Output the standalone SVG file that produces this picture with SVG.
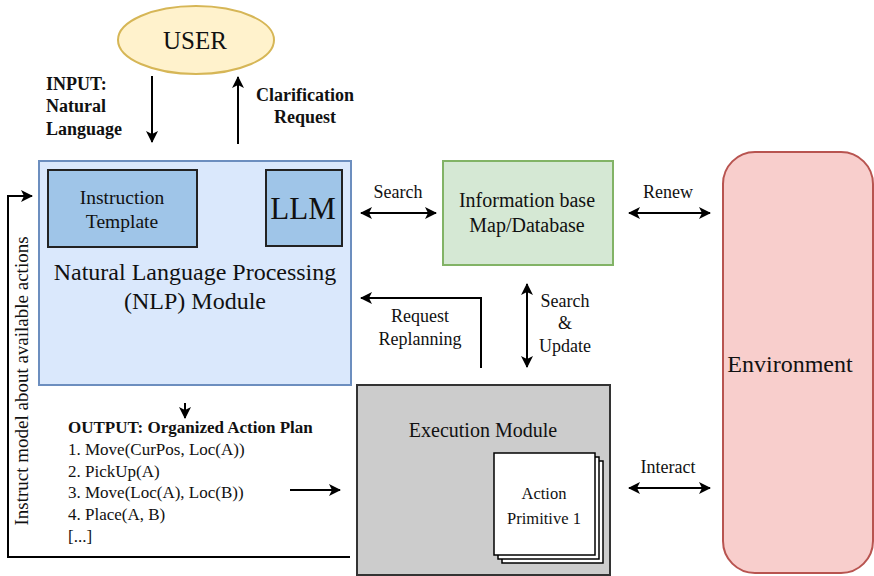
<svg xmlns="http://www.w3.org/2000/svg" width="874" height="576" viewBox="0 0 874 576" font-family="Liberation Serif, serif">
<style>
.t{font-family:'Liberation Serif',serif;fill:#111;}
.c{text-anchor:middle;}
.b{font-weight:bold;}
.ln{stroke:#000;stroke-width:2;fill:none;}
.card{fill:#fff;stroke:#000;stroke-width:1.5;}
.inner{fill:#9fc5e8;stroke:#222;stroke-width:2;}
</style>
<defs>
<marker id="ah" viewBox="0 0 12 12" refX="11" refY="6" markerWidth="6" markerHeight="6" orient="auto-start-reverse" markerUnits="strokeWidth">
<path d="M0,0 L12,6 L0,12 L3,6 Z" fill="#000"/>
</marker>
</defs>
<rect width="874" height="576" fill="#fff"/>
<g id="user">
<ellipse cx="196" cy="40" rx="78" ry="34" fill="#fff2cc" stroke="#d6b656" stroke-width="2"/>
<text x="195" y="49" class="t c" font-size="25">USER</text>
</g>
<g id="nlp">
<rect x="39" y="161" width="312" height="224" fill="#dae8fc" stroke="#6c8ebf" stroke-width="2"/>
<text x="195" y="280" class="t c" font-size="24">Natural Language Processing</text>
<text x="195" y="309" class="t c" font-size="24">(NLP) Module</text>
</g>
<g id="template">
<rect x="48" y="170" width="149" height="77" class="inner"/>
<text x="122" y="204" class="t c" font-size="19.5">Instruction</text>
<text x="122" y="228" class="t c" font-size="19.5">Template</text>
</g>
<g id="llm">
<rect x="266" y="170" width="76" height="76" class="inner"/>
<text x="303" y="219" class="t c" font-size="31">LLM</text>
</g>
<g id="infobase">
<rect x="443" y="161" width="170" height="104" fill="#d5e8d4" stroke="#82b366" stroke-width="2"/>
<text x="527" y="207" class="t c" font-size="20">Information base</text>
<text x="527" y="232" class="t c" font-size="20">Map/Database</text>
</g>
<g id="environment">
<rect x="723" y="152" width="150" height="421" rx="32" fill="#f8cecc" stroke="#b85450" stroke-width="2"/>
<text x="790" y="372" class="t c" font-size="24">Environment</text>
</g>
<g id="execution">
<rect x="357" y="385" width="253" height="190" fill="#cccccc" stroke="#333" stroke-width="2"/>
<text x="483" y="437" class="t c" font-size="20">Execution Module</text>
</g>
<g id="primitive">
<rect x="502" y="461" width="101" height="102" class="card"/>
<rect x="498" y="457" width="101" height="102" class="card"/>
<rect x="494" y="453" width="101" height="102" class="card"/>
<text x="544" y="499" class="t c" font-size="16.5">Action</text>
<text x="544" y="524" class="t c" font-size="16.5">Primitive 1</text>
</g>
<g id="output" font-size="17">
<text x="68" y="433" class="t b">OUTPUT: Organized Action Plan</text>
<text x="68" y="455" class="t">1. Move(CurPos, Loc(A))</text>
<text x="68" y="477" class="t">2. PickUp(A)</text>
<text x="68" y="498" class="t">3. Move(Loc(A), Loc(B))</text>
<text x="68" y="520" class="t">4. Place(A, B)</text>
<text x="68" y="542" class="t">[...]</text>
</g>
<g id="connectors" font-size="18">
<line x1="152" y1="76" x2="152" y2="142" class="ln" marker-end="url(#ah)"/>
<line x1="238" y1="144" x2="238" y2="77" class="ln" marker-end="url(#ah)"/>
<line x1="361" y1="213" x2="436" y2="213" class="ln" marker-start="url(#ah)" marker-end="url(#ah)"/>
<line x1="629" y1="213" x2="710" y2="213" class="ln" marker-start="url(#ah)" marker-end="url(#ah)"/>
<line x1="527" y1="284" x2="527" y2="367" class="ln" marker-start="url(#ah)" marker-end="url(#ah)"/>
<polyline points="481,368 481,298 361,298" class="ln" marker-end="url(#ah)"/>
<line x1="629" y1="488" x2="710" y2="488" class="ln" marker-start="url(#ah)" marker-end="url(#ah)"/>
<line x1="290" y1="490" x2="340" y2="490" class="ln" marker-end="url(#ah)"/>
<line x1="185" y1="403" x2="185" y2="418" class="ln" marker-end="url(#ah)"/>
<polyline points="350,557 8,557 8,196 32,196" class="ln" marker-end="url(#ah)"/>
<text x="46" y="90" class="t b">INPUT:</text>
<text x="46" y="112" class="t b">Natural</text>
<text x="46" y="135" class="t b">Language</text>
<text x="305" y="101" class="t c b">Clarification</text>
<text x="305" y="123" class="t c b">Request</text>
<text x="398" y="198" class="t c">Search</text>
<text x="668" y="198" class="t c">Renew</text>
<text x="420" y="322" class="t c">Request</text>
<text x="420" y="345" class="t c">Replanning</text>
<text x="565" y="307" class="t c">Search</text>
<text x="565" y="329" class="t c">&amp;</text>
<text x="565" y="352" class="t c">Update</text>
<text x="668" y="473" class="t c">Interact</text>
<text transform="translate(28,381) rotate(-90)" class="t c" font-size="19">Instruct model about available actions</text>
</g>
</svg>
